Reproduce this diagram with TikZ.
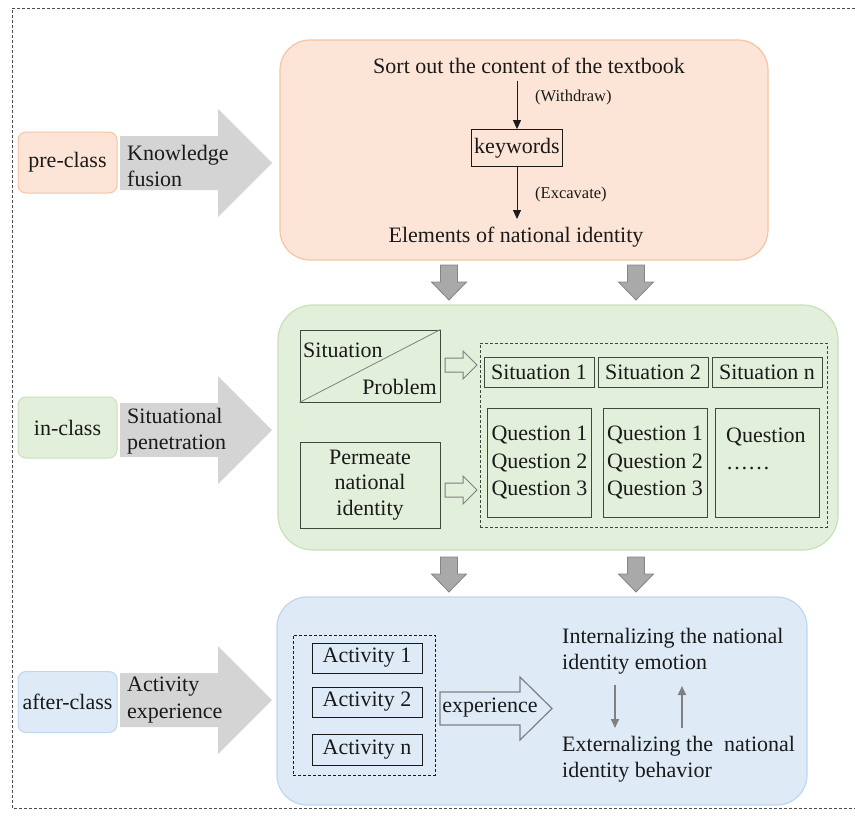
\documentclass[tikz,border=0pt]{standalone}
\usepackage{fontspec}
\setmainfont{LiberationSerif}[Extension=.ttf, UprightFont=*-Regular, BoldFont=*-Bold, ItalicFont=*-Italic]
\usetikzlibrary{arrows.meta}
\definecolor{orf}{HTML}{FCE4D6}
\definecolor{ord}{HTML}{F6C4A2}
\definecolor{grf}{HTML}{E2EFDA}
\definecolor{grd}{HTML}{C9E0B9}
\definecolor{blf}{HTML}{DEEBF7}
\definecolor{bld}{HTML}{BDD7EE}
\definecolor{bigg}{HTML}{D4D4D4}
\definecolor{garr}{HTML}{A9A9A9}
\definecolor{garrd}{HTML}{858585}
\definecolor{ink}{HTML}{1A1A1A}
\definecolor{boxd}{HTML}{3F4A3F}
\tikzset{
  phase/.style={rounded corners=8, minimum width=99, minimum height=61, inner sep=0, line width=1pt},
  stage/.style={line width=1.2pt, inner sep=0},
  ibox/.style={draw=boxd, line width=0.9pt, inner sep=0},
  small/.style={font=\fontsize{16.5}{20}\selectfont},
  bigarr/.pic={\fill[bigg] (120,-27) -- (218,-27) -- (218,-54) -- (272,0) -- (218,54) -- (218,27) -- (120,27) -- cycle;},
  downarr/.pic={\filldraw[fill=garr, draw=garrd, line width=0.8pt] (-8.5,0) -- (8.5,0) -- (8.5,17) -- (17.5,17) -- (0,35) -- (-17.5,17) -- (-8.5,17) -- cycle;},
  hollowarr/.pic={\filldraw[fill=grf, draw=gray, line width=1pt] (0,-7) -- (18,-7) -- (18,-14) -- (32,0) -- (18,14) -- (18,7) -- (0,7) -- cycle;},
  blk/.style={-{Triangle[length=9pt,width=8pt]}, line width=0.9pt, draw=ink},
  gry/.style={-{Triangle[length=9pt,width=8pt]}, line width=1.8pt, draw=gray},
}
\begin{document}
\begin{tikzpicture}[x=1pt,y=-1pt,font=\fontsize{22}{26.5}\selectfont,text=ink]
\useasboundingbox (0,0) rectangle (855,816);
\draw[dash pattern=on 3pt off 2pt, draw=black!70, line width=0.7pt] (855,8) -- (12,8) -- (12,808) -- (855,808);

% ---------- row 1 ----------
\node[phase, fill=orf, draw=ord] (pre) at (67.5,162.5) {pre-class};
\pic at (0,163) {bigarr};
\node[anchor=west, align=left, inner sep=0] (kf) at (127,166) {Knowledge\\fusion};
\node[stage, rounded corners=30, fill=orf, draw=ord, minimum width=488, minimum height=220] (orange) at (524,150) {};
\node (sort) at (529,66) {Sort out the content of the textbook};
\node[draw=ink, line width=0.8pt, minimum width=91, minimum height=37, inner sep=0] (kw) at (517,148) {keywords};
\node (elem) at (516,237) {Elements of national identity};
\draw[blk] (kw.north |- 0,81) -- (kw.north);
\draw[blk] (kw.south) -- (kw.south |- 0,219);
\node[small, anchor=west, inner sep=0] (wd) at (535,98) {(Withdraw)};
\node[small, anchor=west, inner sep=0] (ex) at (535,195) {(Excavate)};

\pic at (449,265) {downarr};
\pic at (636,265) {downarr};

% ---------- row 2 ----------
\node[phase, fill=grf, draw=grd] (in) at (67.5,427.5) {in-class};
\pic at (0,430) {bigarr};
\node[anchor=west, align=left, inner sep=0] (sp2) at (127,431) {Situational\\penetration};
\node[stage, rounded corners=35, fill=grf, draw=grd, minimum width=560, minimum height=245] (green) at (558,427.5) {};

\node[ibox, minimum width=140, minimum height=72] (sp) at (370,366) {};
\draw[draw=gray, line width=0.8pt] (sp.south west) -- (sp.north east);
\node[anchor=west, inner sep=0] (sit) at (303,350) {Situation};
\node[anchor=east, inner sep=0] (prob) at (437,387) {Problem};

\node[ibox, minimum width=140, minimum height=86, align=center, font=\fontsize{22}{25.5}\selectfont] (perm) at (370,485) {Permeate\\national\\identity};

\pic at (445,365) {hollowarr};
\pic at (445,490) {hollowarr};

\node[draw=boxd, dash pattern=on 3pt off 2pt, line width=0.9pt, minimum width=347, minimum height=184, inner sep=0] (dq) at (653.5,435) {};

\node[ibox, minimum width=110, minimum height=30] (s1) at (539,372) {Situation 1};
\node[ibox, minimum width=110, minimum height=30] (s2) at (653,372) {Situation 2};
\node[ibox, minimum width=110, minimum height=30] (sn) at (767,372) {Situation n};

\node[ibox, minimum width=104, minimum height=109, align=left, font=\fontsize{22}{27.5}\selectfont] (q1) at (539.5,462.5) {Question 1\\Question 2\\Question 3};
\node[ibox, minimum width=104, minimum height=109, align=left, font=\fontsize{22}{27.5}\selectfont] (q2) at (655,462.5) {Question 1\\Question 2\\Question 3};
\node[ibox, minimum width=104, minimum height=109] (q3) at (767,462.5) {};
\node[anchor=west, align=left, inner sep=0, font=\fontsize{22}{27.5}\selectfont] (q3t) at (726,449) {Question\\……};

\pic at (449,557) {downarr};
\pic at (636,557) {downarr};

% ---------- row 3 ----------
\node[phase, fill=blf, draw=bld] (after) at (67.5,702) {after-class};
\pic at (0,700) {bigarr};
\node[anchor=west, align=left, inner sep=0] (ae) at (127,700) {Activity\\experience};
\node[stage, rounded corners=30, fill=blf, draw=bld, minimum width=530, minimum height=208] (blue) at (542,701) {};

\node[draw=ink, dash pattern=on 3pt off 2pt, line width=0.9pt, minimum width=142, minimum height=140, inner sep=0] (da) at (364,705) {};
\node[ibox, draw=ink, minimum width=110, minimum height=30] (a1) at (367,658) {Activity 1};
\node[ibox, draw=ink, minimum width=110, minimum height=30] (a2) at (367,702) {Activity 2};
\node[ibox, draw=ink, minimum width=110, minimum height=31] (an) at (367,750) {Activity n};

\filldraw[fill=blf, draw=gray, line width=1.2pt] (440,692) -- (520,692) -- (520,677) -- (552,708.5) -- (520,740) -- (520,725) -- (440,725) -- cycle;
\node[inner sep=0] (exp) at (490,708) {experience};

\node[anchor=west, align=left, inner sep=0] (int) at (562,651) {Internalizing the national\\identity emotion};
\node[anchor=west, align=left, inner sep=0] (ext) at (562,759) {Externalizing the~ national\\identity behavior};
\coordinate (d1) at (615,685);
\coordinate (d2) at (615,728);
\coordinate (u1) at (682,728);
\coordinate (u2) at (682,686);
\draw[gry] (d1) -- (d2);
\draw[gry] (u1) -- (u2);
\end{tikzpicture}
\end{document}
